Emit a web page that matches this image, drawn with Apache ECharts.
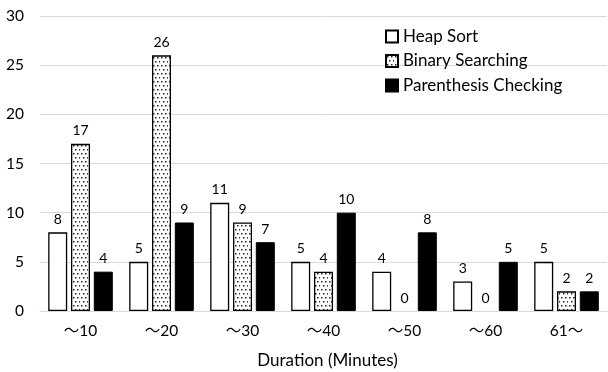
<!DOCTYPE html>
<html>
<head>
<meta charset="utf-8">
<script src="https://cdn.jsdelivr.net/npm/echarts@6/dist/echarts.min.js"></script>
<style>
  html, body { margin: 0; padding: 0; background: #fff; }
  #chart { width: 608px; height: 372px; }
</style>
</head>
<body>
<div id="chart"></div>
<script>
// Duration buckets and counts per task
const categories = ['～10', '～20', '～30', '～40', '～50', '～60', '61～'];
const heapSort = [8, 5, 11, 5, 4, 3, 5];
const binarySearching = [17, 26, 9, 4, 0, 0, 2];
const parenthesisChecking = [4, 9, 7, 10, 8, 5, 2];
const yTicks = { min: 0, max: 30, interval: 5 };

const FONT = "Lato, 'Noto Sans CJK JP', sans-serif";

// Dotted fill for the middle series
function dotPattern() {
  const c = document.createElement('canvas');
  c.width = 8; c.height = 8;
  const g = c.getContext('2d');
  g.fillStyle = '#fff';
  g.fillRect(0, 0, 8, 8);
  g.fillStyle = '#222';
  [[1, 1], [5, 1], [3, 5], [7, 5]].forEach(([x, y]) => g.fillRect(x, y, 1.5, 1.5));
  return c;
}

// Zero-height bars keep their value label but draw no outline
function withOutline(values, width) {
  return values.map(v => ({ value: v, itemStyle: { borderWidth: v === 0 ? 0 : width } }));
}

const chart = echarts.init(document.getElementById('chart'));
const labelStyle = { show: true, position: 'top', distance: 6, color: '#000', fontSize: 14, fontFamily: FONT };

chart.setOption({
  animation: false,
  textStyle: { fontFamily: FONT },
  grid: { left: 40, right: 1, top: 16, bottom: 61, outerBoundsMode: 'none' },
  legend: {
    orient: 'vertical',
    left: 380,
    top: 23,
    icon: 'rect',
    itemWidth: 12,
    itemHeight: 12,
    itemGap: 7.5,
    textStyle: { fontSize: 17, color: '#000', fontFamily: FONT },
    data: ['Heap Sort', 'Binary Searching', 'Parenthesis Checking']
  },
  xAxis: {
    type: 'category',
    data: categories,
    axisTick: { show: false },
    axisLine: { lineStyle: { color: '#d9d9d9', width: 1 } },
    axisLabel: { color: '#000', fontSize: 15.5, margin: 12, fontFamily: FONT },
    name: 'Duration (Minutes)',
    nameLocation: 'middle',
    nameGap: 41,
    nameTextStyle: { color: '#000', fontSize: 17, fontFamily: FONT, padding: [0, 0, 0, 8] }
  },
  yAxis: {
    type: 'value',
    min: yTicks.min,
    max: yTicks.max,
    interval: yTicks.interval,
    axisLine: { show: false },
    axisTick: { show: false },
    axisLabel: { color: '#000', fontSize: 15.5, margin: 16, fontFamily: FONT },
    splitLine: { lineStyle: { color: '#d9d9d9', width: 1 } }
  },
  series: [
    {
      name: 'Heap Sort',
      type: 'bar',
      data: withOutline(heapSort, 1.3),
      barWidth: 19,
      barGap: '20%',
      barCategoryGap: '20%',
      itemStyle: { color: '#fff', borderColor: '#000', borderWidth: 1.3 },
      label: labelStyle
    },
    {
      name: 'Binary Searching',
      type: 'bar',
      data: withOutline(binarySearching, 1.3),
      barWidth: 19,
      barGap: '20%',
      itemStyle: { color: { image: dotPattern(), repeat: 'repeat' }, borderColor: '#000', borderWidth: 1.3 },
      label: labelStyle
    },
    {
      name: 'Parenthesis Checking',
      type: 'bar',
      data: withOutline(parenthesisChecking, 1),
      barWidth: 19,
      barGap: '20%',
      itemStyle: { color: '#000', borderColor: '#000', borderWidth: 1 },
      label: labelStyle
    }
  ]
});
</script>
</body>
</html>
